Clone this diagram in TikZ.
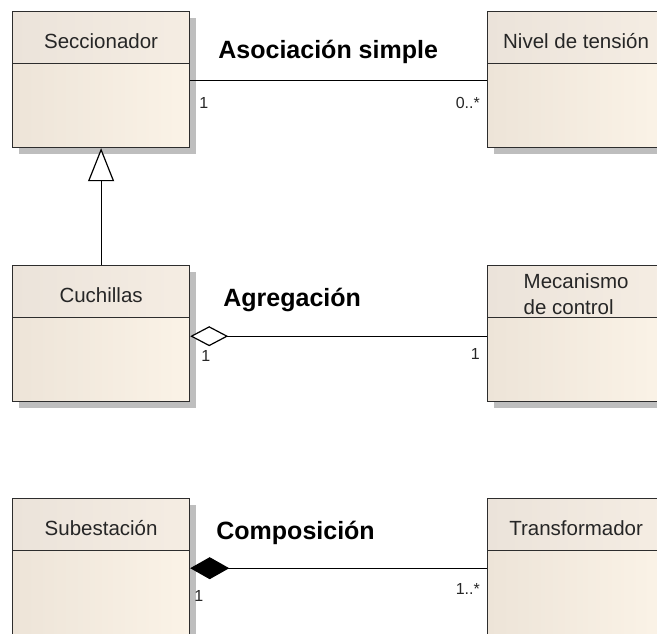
\documentclass[tikz,border=0pt]{standalone}
\usepackage{fontspec}
\setmainfont{Liberation Sans}
\usetikzlibrary{arrows.meta, positioning, calc, shadows}
\definecolor{LineColor}{RGB}{45,45,45}
\definecolor{BodyLeft}{RGB}{237,228,216}
\definecolor{BodyRight}{RGB}{251,243,231}
\definecolor{HeadLeft}{RGB}{235,227,218}
\definecolor{HeadRight}{RGB}{245,237,227}
\definecolor{ShadowGray}{RGB}{190,190,190}
\tikzset{
  classbox/.style={draw=LineColor, line width=1.2pt, minimum width=177pt, minimum height=136pt,
    anchor=north west, inner sep=0pt, left color=BodyLeft, right color=BodyRight,
    drop shadow={shadow xshift=6pt, shadow yshift=-6pt, fill=ShadowGray, opacity=1}},
  headbox/.style={draw=LineColor, line width=1.2pt, minimum width=177pt, minimum height=52pt,
    anchor=north, inner sep=0pt, left color=HeadLeft, right color=HeadRight,
    text=black!85, font=\fontsize{20.5}{26}\selectfont},
  classhead/.style={headbox, text height=21pt, text depth=0pt},
  mult/.style={font=\fontsize{16}{16}\selectfont, inner sep=0pt, text=black!85},
  relname/.style={font=\fontsize{25}{25}\selectfont\bfseries, inner sep=0pt, anchor=base west},
  link/.style={line width=1.2pt, black},
}

\begin{document}
\begin{tikzpicture}[x=1pt, y=-1pt]
  \useasboundingbox (0,0) rectangle (657,634);
  \clip (0,0) rectangle (657,634);
  \fill[white] (0,0) rectangle (657,634);

  % classes
  \node[classbox] (secc) at (12,11) {};
  \node[classhead] (seccH) at (secc.north) {Seccionador};
  \node[classbox] (nivel) at (487,11) {};
  \node[classhead] (nivelH) at (nivel.north) {Nivel de tensión};

  \node[classbox] (cuch) at (12,265) {};
  \node[classhead] (cuchH) at (cuch.north) {Cuchillas};
  \node[classbox] (meca) at (487,265) {};
  \node[headbox, align=left] (mecaH) at (meca.north) {\rule{0pt}{20pt}Mecanismo\\de control};

  \node[classbox, minimum height=160pt] (subes) at (12,498) {};
  \node[classhead] (subesH) at (subes.north) {Subestación};
  \node[classbox, minimum height=160pt] (trafo) at (487,498) {};
  \node[classhead] (trafoH) at (trafo.north) {Transformador};

  % association
  \coordinate (asocA) at ($(seccH.south east)+(0,16)$);
  \coordinate (asocB) at ($(nivelH.south west)+(0,16)$);
  \draw[link] (asocA) -- (asocB);
  \node[relname] (asoc) at ($(asocA)+(28,-22)$) {Asociación simple};
  \node[mult, anchor=north west] (asocM1) at ($(asocA)+(9,17)$) {1};
  \node[mult, anchor=north east] (asocM2) at ($(asocB)+(-7,17)$) {0..*};

  % generalization
  \draw[link, -{Triangle[open, length=33pt, width=26pt, fill=white]}] (cuch.north) -- (secc.south);

  % aggregation
  \coordinate (agreA) at ($(cuchH.south east)+(0,18)$);
  \coordinate (agreB) at ($(mecaH.south west)+(0,18)$);
  \draw[link, {Diamond[open, length=38pt, width=20pt, fill=white]}-] (agreA) -- (agreB);
  \node[relname] (agre) at ($(agreA)+(33,-30)$) {Agregación};
  \node[mult, anchor=north west] (agreM1) at ($(agreA)+(11,14)$) {1};
  \node[mult, anchor=north east] (agreM2) at ($(agreB)+(-7,12)$) {1};

  % composition
  \coordinate (compA) at ($(subesH.south east)+(0,17)$);
  \coordinate (compB) at ($(trafoH.south west)+(0,17)$);
  \draw[link, {Diamond[length=39pt, width=22pt]}-] (compA) -- (compB);
  \node[relname] (comp) at ($(compA)+(26,-29)$) {Composición};
  \node[mult, anchor=north west] (compM1) at ($(compA)+(4,22)$) {1};
  \node[mult, anchor=north east] (compM2) at ($(compB)+(-7,15)$) {1..*};
\end{tikzpicture}
\end{document}
